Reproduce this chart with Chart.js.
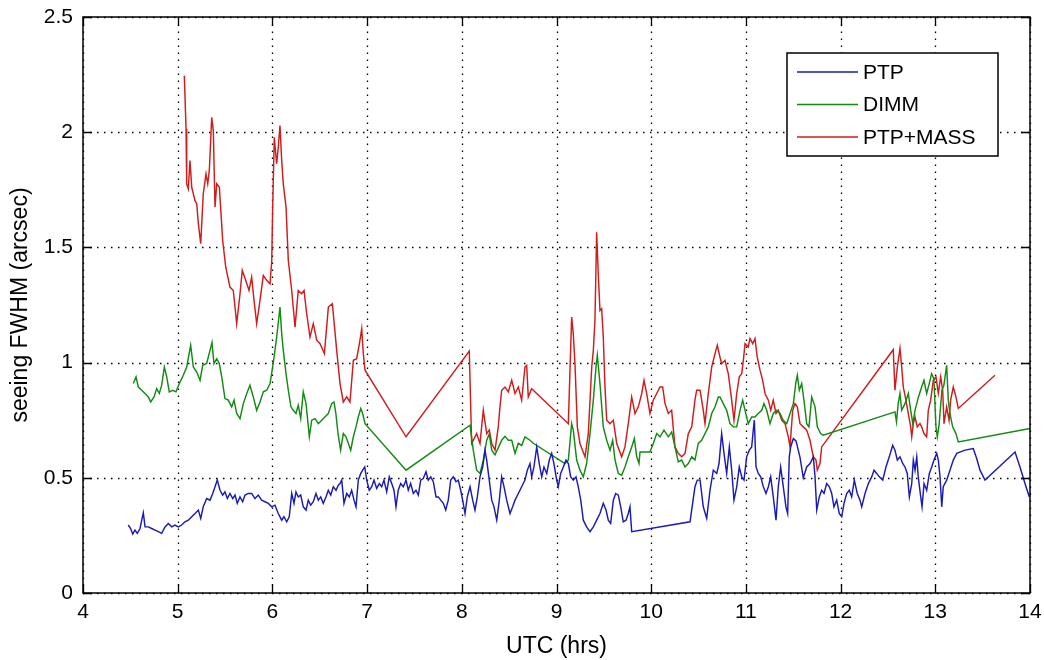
<!DOCTYPE html>
<html><head><meta charset="utf-8">
<script src="https://cdn.jsdelivr.net/npm/chart.js@4.4.1/dist/chart.umd.min.js"></script>
<style>html,body{margin:0;padding:0;background:#fff}#wrap{width:1044px;height:660px;position:relative}</style>
</head><body><div id="wrap"><canvas id="c" width="1044" height="660"></canvas></div>
<script>
// ---------------- data ----------------
const seriesLabels = ['PTP', 'DIMM', 'PTP+MASS'];

const ptpX = [4.478,4.503,4.525,4.549,4.573,4.602,4.620,4.637,4.655,4.690,4.725,4.760,4.795,4.831,4.866,4.901,4.937,4.971,5.006,5.042,5.077,5.112,5.148,5.183,5.218,5.243,5.270,5.306,5.341,5.370,5.394,5.418,5.447,5.475,5.499,5.524,5.552,5.581,5.605,5.629,5.658,5.686,5.711,5.746,5.781,5.816,5.851,5.887,5.922,5.957,5.993,6.027,6.062,6.098,6.122,6.151,6.178,6.204,6.228,6.249,6.273,6.299,6.326,6.355,6.379,6.404,6.432,6.460,6.485,6.510,6.537,6.566,6.590,6.616,6.643,6.672,6.696,6.714,6.732,6.756,6.785,6.812,6.837,6.862,6.883,6.907,6.933,6.953,6.975,6.996,7.023,7.049,7.073,7.101,7.129,7.154,7.178,7.207,7.234,7.260,7.284,7.305,7.329,7.355,7.382,7.411,7.435,7.460,7.488,7.516,7.541,7.566,7.593,7.622,7.646,7.672,7.699,7.728,7.752,7.777,7.805,7.830,7.857,7.883,7.910,7.939,7.963,7.988,8.009,8.034,8.058,8.087,8.115,8.139,8.164,8.192,8.221,8.245,8.263,8.290,8.316,8.340,8.369,8.396,8.421,8.446,8.474,8.509,8.537,8.562,8.597,8.632,8.667,8.692,8.720,8.738,8.762,8.791,8.818,8.844,8.868,8.897,8.924,8.949,8.973,9.002,9.019,9.044,9.072,9.100,9.125,9.150,9.177,9.206,9.230,9.256,9.283,9.318,9.354,9.389,9.424,9.459,9.494,9.523,9.547,9.572,9.600,9.625,9.653,9.678,9.705,9.734,9.758,9.776,9.794,10.410,10.462,10.487,10.516,10.550,10.586,10.621,10.656,10.692,10.716,10.744,10.769,10.797,10.825,10.850,10.874,10.903,10.930,10.956,10.980,11.008,11.036,11.061,11.078,11.089,11.107,11.131,11.156,11.184,11.212,11.237,11.262,11.289,11.318,11.342,11.367,11.395,11.423,11.441,11.458,11.473,11.501,11.529,11.571,11.606,11.642,11.677,11.712,11.730,11.748,11.775,11.800,11.825,11.853,11.881,11.906,11.930,11.959,11.986,12.012,12.036,12.064,12.092,12.117,12.145,12.176,12.205,12.223,12.258,12.293,12.328,12.353,12.381,12.409,12.445,12.479,12.514,12.550,12.574,12.599,12.627,12.656,12.680,12.704,12.726,12.751,12.768,12.786,12.804,12.820,12.846,12.860,12.881,12.909,12.937,12.962,12.986,13.015,13.032,13.050,13.068,13.084,13.120,13.155,13.190,13.226,13.314,13.401,13.437,13.472,13.525,13.842,13.894,13.947,13.993];
const ptpY = [0.295,0.280,0.256,0.273,0.259,0.280,0.316,0.348,0.287,0.287,0.280,0.273,0.266,0.259,0.287,0.302,0.287,0.295,0.287,0.295,0.309,0.316,0.331,0.345,0.360,0.324,0.374,0.410,0.403,0.432,0.461,0.490,0.446,0.425,0.439,0.410,0.432,0.410,0.425,0.389,0.417,0.396,0.425,0.432,0.432,0.410,0.425,0.403,0.396,0.389,0.374,0.381,0.345,0.316,0.331,0.309,0.331,0.432,0.389,0.439,0.417,0.425,0.374,0.360,0.403,0.381,0.396,0.432,0.403,0.417,0.389,0.417,0.446,0.425,0.461,0.446,0.468,0.475,0.490,0.389,0.432,0.417,0.446,0.403,0.374,0.490,0.519,0.533,0.547,0.490,0.446,0.461,0.490,0.454,0.475,0.461,0.490,0.439,0.504,0.475,0.446,0.374,0.446,0.475,0.461,0.490,0.446,0.475,0.432,0.446,0.425,0.490,0.497,0.526,0.490,0.504,0.483,0.417,0.417,0.403,0.389,0.360,0.403,0.490,0.504,0.483,0.490,0.446,0.403,0.345,0.417,0.461,0.403,0.360,0.417,0.504,0.547,0.620,0.577,0.490,0.403,0.374,0.316,0.403,0.504,0.461,0.403,0.345,0.374,0.403,0.432,0.461,0.490,0.533,0.562,0.504,0.547,0.634,0.562,0.504,0.547,0.519,0.577,0.606,0.562,0.490,0.461,0.519,0.547,0.577,0.562,0.504,0.490,0.504,0.461,0.403,0.316,0.287,0.266,0.287,0.316,0.345,0.389,0.360,0.316,0.302,0.403,0.432,0.425,0.374,0.309,0.316,0.345,0.374,0.266,0.309,0.461,0.490,0.490,0.374,0.324,0.446,0.533,0.519,0.562,0.692,0.606,0.519,0.634,0.533,0.403,0.461,0.547,0.504,0.490,0.591,0.620,0.634,0.707,0.750,0.547,0.519,0.504,0.461,0.432,0.461,0.504,0.417,0.316,0.461,0.547,0.461,0.374,0.345,0.591,0.634,0.670,0.660,0.590,0.500,0.547,0.562,0.591,0.504,0.360,0.417,0.446,0.432,0.475,0.461,0.432,0.374,0.403,0.345,0.331,0.389,0.432,0.446,0.417,0.490,0.432,0.403,0.374,0.432,0.475,0.504,0.533,0.519,0.504,0.490,0.547,0.591,0.641,0.620,0.577,0.591,0.562,0.547,0.519,0.417,0.475,0.577,0.533,0.591,0.504,0.417,0.374,0.475,0.446,0.519,0.547,0.577,0.606,0.577,0.504,0.374,0.461,0.490,0.533,0.577,0.606,0.620,0.627,0.584,0.533,0.490,0.612,0.547,0.475,0.417];

const dimmX = [4.531,4.560,4.584,4.620,4.655,4.690,4.715,4.750,4.778,4.806,4.831,4.859,4.884,4.911,4.947,4.982,5.017,5.059,5.095,5.137,5.165,5.201,5.236,5.264,5.306,5.341,5.362,5.383,5.412,5.439,5.465,5.499,5.534,5.570,5.595,5.623,5.658,5.693,5.729,5.763,5.798,5.834,5.869,5.904,5.940,5.975,6.003,6.027,6.045,6.080,6.098,6.115,6.144,6.168,6.196,6.221,6.249,6.273,6.299,6.326,6.355,6.390,6.415,6.450,6.485,6.521,6.555,6.590,6.626,6.650,6.670,6.693,6.720,6.749,6.777,6.802,6.827,6.855,6.883,6.907,6.933,6.953,6.978,7.411,8.087,8.121,8.157,8.192,8.227,8.263,8.290,8.316,8.351,8.385,8.421,8.456,8.491,8.527,8.562,8.597,8.632,8.667,8.720,8.755,9.090,9.125,9.160,9.177,9.213,9.248,9.283,9.318,9.354,9.389,9.417,9.431,9.459,9.494,9.530,9.565,9.593,9.618,9.653,9.688,9.723,9.758,9.794,9.822,9.847,9.871,9.882,9.987,10.022,10.058,10.093,10.135,10.181,10.216,10.251,10.286,10.322,10.357,10.392,10.428,10.462,10.497,10.533,10.568,10.603,10.639,10.674,10.709,10.726,10.761,10.797,10.832,10.867,10.903,10.938,10.966,10.991,11.025,11.061,11.096,11.131,11.167,11.191,11.220,11.254,11.289,11.325,11.360,11.395,11.431,11.466,11.501,11.526,11.543,11.564,11.589,11.613,11.642,11.666,11.695,11.730,11.754,11.789,11.817,12.574,12.590,12.608,12.627,12.645,12.680,12.715,12.740,12.763,12.786,12.822,12.856,12.880,12.909,12.936,12.961,12.985,13.007,13.021,13.040,13.070,13.090,13.120,13.137,13.155,13.183,13.218,13.243,14.000];
const dimmY = [0.909,0.938,0.894,0.880,0.866,0.851,0.829,0.851,0.887,0.866,0.902,0.981,0.938,0.873,0.880,0.873,0.909,0.945,0.981,1.075,0.981,0.959,0.923,0.988,0.996,1.053,1.087,0.996,1.017,0.996,0.938,0.844,0.837,0.808,0.837,0.779,0.757,0.822,0.866,0.902,0.851,0.793,0.829,0.873,0.880,0.909,0.981,1.053,1.110,1.241,1.126,1.053,0.952,0.880,0.808,0.793,0.779,0.815,0.757,0.873,0.822,0.678,0.750,0.757,0.735,0.750,0.764,0.779,0.822,0.829,0.780,0.692,0.620,0.692,0.678,0.649,0.620,0.678,0.721,0.764,0.801,0.779,0.735,0.533,0.728,0.620,0.533,0.519,0.577,0.663,0.690,0.620,0.600,0.630,0.663,0.680,0.663,0.663,0.606,0.650,0.640,0.678,0.663,0.650,0.562,0.577,0.735,0.707,0.577,0.533,0.504,0.562,0.692,0.837,0.981,1.032,0.909,0.721,0.663,0.620,0.663,0.577,0.519,0.511,0.547,0.591,0.634,0.670,0.591,0.562,0.612,0.612,0.649,0.692,0.678,0.707,0.678,0.699,0.634,0.569,0.577,0.547,0.562,0.591,0.577,0.649,0.663,0.692,0.721,0.779,0.808,0.851,0.851,0.822,0.793,0.735,0.721,0.721,0.793,0.837,0.793,0.735,0.764,0.764,0.779,0.793,0.822,0.793,0.735,0.779,0.793,0.779,0.750,0.735,0.779,0.822,0.909,0.945,0.880,0.909,0.837,0.735,0.721,0.851,0.808,0.721,0.692,0.685,0.786,0.743,0.822,0.866,0.793,0.822,0.866,0.793,0.735,0.793,0.851,0.894,0.923,0.866,0.909,0.952,0.930,0.721,0.678,0.730,0.880,0.900,0.988,0.837,0.779,0.721,0.692,0.656,0.714];

const massX = [5.070,5.088,5.095,5.112,5.130,5.148,5.183,5.201,5.218,5.243,5.270,5.299,5.317,5.334,5.359,5.376,5.394,5.412,5.440,5.475,5.507,5.552,5.587,5.623,5.658,5.682,5.718,5.753,5.781,5.806,5.834,5.869,5.904,5.940,5.975,5.993,6.003,6.020,6.045,6.062,6.080,6.098,6.115,6.144,6.168,6.204,6.239,6.273,6.309,6.334,6.362,6.397,6.432,6.468,6.503,6.549,6.591,6.633,6.679,6.714,6.749,6.785,6.819,6.855,6.890,6.925,6.943,6.960,6.978,7.411,8.079,8.104,8.157,8.192,8.227,8.263,8.290,8.316,8.351,8.385,8.403,8.421,8.456,8.491,8.527,8.562,8.597,8.632,8.667,8.685,8.702,8.738,9.125,9.160,9.177,9.195,9.220,9.248,9.301,9.336,9.372,9.389,9.406,9.424,9.441,9.459,9.477,9.494,9.512,9.530,9.565,9.600,9.636,9.688,9.723,9.758,9.794,9.829,9.864,9.900,9.924,9.952,9.987,10.022,10.058,10.093,10.121,10.146,10.181,10.216,10.251,10.286,10.322,10.357,10.392,10.428,10.462,10.480,10.516,10.550,10.568,10.603,10.639,10.674,10.698,10.726,10.744,10.779,10.814,10.850,10.874,10.903,10.930,10.956,10.973,10.991,11.025,11.043,11.072,11.096,11.120,11.149,11.177,11.202,11.237,11.262,11.289,11.318,11.342,11.378,11.413,11.448,11.466,11.494,11.518,11.543,11.571,11.606,11.642,11.677,11.712,11.740,11.754,11.782,11.800,12.556,12.574,12.599,12.627,12.645,12.662,12.690,12.715,12.740,12.751,12.768,12.786,12.810,12.838,12.856,12.880,12.909,12.926,12.951,12.979,13.007,13.032,13.057,13.078,13.092,13.120,13.145,13.162,13.190,13.218,13.243,13.630];
const massY = [2.245,2.014,1.776,1.754,1.877,1.761,1.703,1.689,1.603,1.516,1.733,1.819,1.776,1.834,2.065,2.007,1.675,1.776,1.761,1.530,1.415,1.328,1.313,1.169,1.299,1.400,1.357,1.313,1.371,1.270,1.169,1.270,1.378,1.357,1.342,1.443,1.675,1.978,1.863,1.935,2.029,1.877,1.776,1.675,1.443,1.313,1.154,1.313,1.299,1.313,1.212,1.111,1.169,1.097,1.082,1.039,1.241,1.256,1.053,0.909,0.829,0.851,0.829,1.010,1.017,1.097,1.147,1.039,0.967,0.678,1.050,0.649,0.692,0.649,0.793,0.692,0.707,0.649,0.620,0.721,0.808,0.880,0.894,0.873,0.923,0.866,0.894,0.837,0.981,0.988,0.851,0.887,0.735,1.198,1.126,0.996,0.721,0.649,0.591,0.692,0.981,1.053,1.183,1.566,1.386,1.226,1.234,1.111,0.894,0.750,0.735,0.750,0.649,0.591,0.634,0.735,0.851,0.779,0.808,0.866,0.923,0.866,0.779,0.837,0.866,0.894,0.894,0.822,0.779,0.793,0.634,0.606,0.591,0.606,0.692,0.721,0.837,0.880,0.880,0.793,0.735,0.866,0.981,1.039,1.075,1.024,0.996,1.010,0.952,0.837,0.750,0.866,0.938,0.952,1.010,1.082,1.068,1.104,1.082,1.104,1.024,0.967,0.923,0.866,0.837,0.793,0.837,0.779,0.793,0.750,0.735,0.678,0.634,0.793,0.822,0.808,0.735,0.721,0.707,0.663,0.591,0.577,0.533,0.562,0.634,1.056,0.880,0.981,1.061,0.981,0.894,0.837,0.779,0.721,0.678,0.735,0.764,0.721,0.735,0.721,0.692,0.678,0.793,0.837,0.923,0.938,0.866,0.938,0.880,0.735,0.808,0.750,0.837,0.894,0.851,0.801,0.945];

const xTickValues = [4,5,6,7,8,9,10,11,12,13,14];
const yTickValues = [0,0.5,1,1.5,2,2.5];
const yTickLabels = ['0','0.5','1','1.5','2','2.5'];
const xAxisTitle = 'UTC (hrs)';
const yAxisTitle = 'seeing FWHM (arcsec)';

// ---------------- styling ----------------
const COLORS = ['#1b1bb4', '#138a13', '#cf1c1c'];
const FONT = "'Liberation Sans', Arial, Helvetica, sans-serif";
const FS = 21;      // tick labels & legend
const FS_T = 23;    // axis titles

function pairs(xs, ys) { return xs.map((x, i) => ({x: x, y: ys[i]})); }

const matlabFrame = {
  id: 'matlabFrame',
  beforeDatasetsDraw(chart) {
    const {ctx, chartArea: a, scales: {x, y}} = chart;
    ctx.save();
    ctx.strokeStyle = '#000';
    ctx.lineWidth = 1.3;
    ctx.setLineDash([1.5, 5.5]);
    xTickValues.forEach(v => {
      const px = Math.round(x.getPixelForValue(v)) + 0.5;
      ctx.beginPath(); ctx.moveTo(px, a.bottom); ctx.lineTo(px, a.top); ctx.stroke();
    });
    yTickValues.forEach(v => {
      const py = Math.round(y.getPixelForValue(v)) + 0.5;
      ctx.beginPath(); ctx.moveTo(a.left, py); ctx.lineTo(a.right, py); ctx.stroke();
    });
    ctx.restore();
  },
  afterDatasetsDraw(chart) {
    const {ctx, chartArea: a, scales: {x, y}} = chart;
    ctx.save();
    ctx.setLineDash([]);
    ctx.strokeStyle = '#000';
    ctx.lineWidth = 1.5;
    ctx.strokeRect(a.left, a.top, a.right - a.left, a.bottom - a.top);
    const tl = 9;
    ctx.lineWidth = 1.3;
    xTickValues.forEach(v => {
      const px = Math.round(x.getPixelForValue(v)) + 0.5;
      ctx.beginPath();
      ctx.moveTo(px, a.bottom); ctx.lineTo(px, a.bottom - tl);
      ctx.moveTo(px, a.top); ctx.lineTo(px, a.top + tl);
      ctx.stroke();
    });
    yTickValues.forEach(v => {
      const py = Math.round(y.getPixelForValue(v)) + 0.5;
      ctx.beginPath();
      ctx.moveTo(a.left, py); ctx.lineTo(a.left + tl, py);
      ctx.moveTo(a.right, py); ctx.lineTo(a.right - tl, py);
      ctx.stroke();
    });
    // legend box (upper right, inside the axes)
    const bx = a.right - 243, by = a.top + 36, bw = 211, bh = 103;
    ctx.fillStyle = '#fff';
    ctx.fillRect(bx, by, bw, bh);
    ctx.lineWidth = 1.5;
    ctx.strokeRect(bx, by, bw, bh);
    ctx.font = FS + 'px ' + FONT;
    ctx.textBaseline = 'middle';
    ctx.textAlign = 'left';
    chart.data.datasets.forEach((ds, i) => {
      const ly = by + 19 + i * 32.5;
      ctx.strokeStyle = ds.borderColor;
      ctx.lineWidth = 1.4;
      ctx.beginPath(); ctx.moveTo(bx + 10, ly); ctx.lineTo(bx + 71, ly); ctx.stroke();
      ctx.fillStyle = '#000';
      ctx.fillText(ds.label, bx + 76, ly + 1);
    });
    ctx.restore();
  }
};

new Chart(document.getElementById('c'), {
  type: 'line',
  data: {
    datasets: [
      {label: seriesLabels[0], data: pairs(ptpX, ptpY), borderColor: COLORS[0]},
      {label: seriesLabels[1], data: pairs(dimmX, dimmY), borderColor: COLORS[1]},
      {label: seriesLabels[2], data: pairs(massX, massY), borderColor: COLORS[2]}
    ]
  },
  options: {
    responsive: false,
    devicePixelRatio: 1,
    animation: false,
    parsing: false,
    normalized: true,
    layout: {padding: {top: 17, right: 14, left: 0, bottom: 0}},
    elements: {
      point: {radius: 0, hoverRadius: 0},
      line: {borderWidth: 1.45, tension: 0, fill: false}
    },
    plugins: {legend: {display: false}, tooltip: {enabled: false}},
    scales: {
      x: {
        type: 'linear', min: 4, max: 14,
        afterBuildTicks: s => { s.ticks = xTickValues.map(v => ({value: v})); },
        afterFit: s => { s.height = 67; s.paddingLeft = 0; s.paddingRight = 0; },
        grid: {display: false, drawTicks: false},
        border: {display: false},
        ticks: {color: '#000', font: {family: FONT, size: FS}, padding: 7, maxRotation: 0,
                callback: v => String(v)},
        title: {display: true, text: xAxisTitle, color: '#000', font: {family: FONT, size: FS_T}, padding: {top: 0, bottom: 0}}
      },
      y: {
        type: 'linear', min: 0, max: 2.5,
        afterBuildTicks: s => { s.ticks = yTickValues.map(v => ({value: v})); },
        afterFit: s => { s.width = 83; s.paddingTop = 0; s.paddingBottom = 0; },
        grid: {display: false, drawTicks: false},
        border: {display: false},
        ticks: {color: '#000', font: {family: FONT, size: FS}, padding: 10,
                callback: v => { const i = yTickValues.indexOf(v); return i >= 0 ? yTickLabels[i] : ''; }},
        title: {display: true, text: yAxisTitle, color: '#000', font: {family: FONT, size: FS_T}, padding: {top: 7, bottom: 0}}
      }
    }
  },
  plugins: [matlabFrame]
});
</script>
</body></html>
